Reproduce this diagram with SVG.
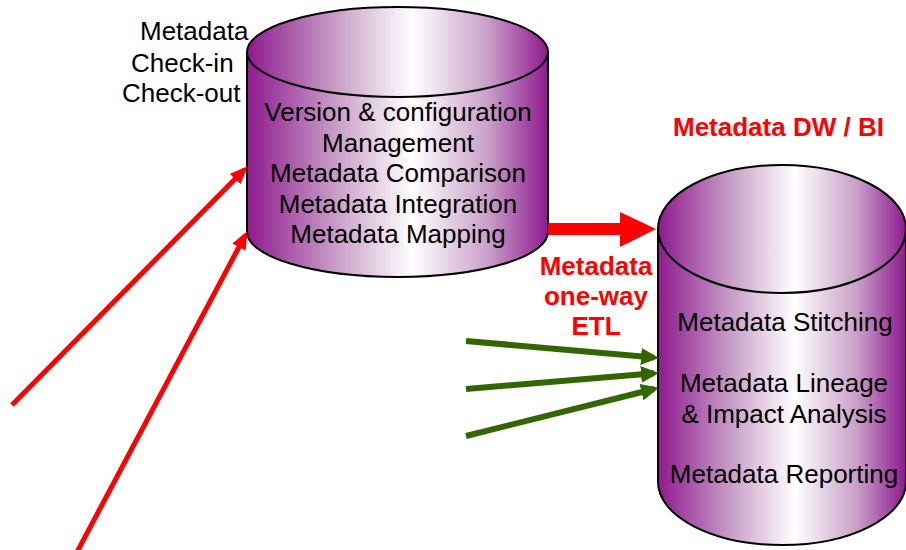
<svg xmlns="http://www.w3.org/2000/svg" width="906" height="550" viewBox="0 0 906 550">
  <defs>
    <linearGradient id="cylFill" x1="0" y1="0" x2="1" y2="0">
      <stop offset="0" stop-color="#8E1A8E"/>
      <stop offset="0.3" stop-color="#C9A0C8"/>
      <stop offset="0.55" stop-color="#FFFFFF"/>
      <stop offset="0.8" stop-color="#C9A0C8"/>
      <stop offset="1" stop-color="#8E1A8E"/>
    </linearGradient>
    <marker id="redHead" markerUnits="userSpaceOnUse" markerWidth="18" markerHeight="15" refX="13" refY="7.5" orient="auto">
      <path d="M0,0 L18,7.5 L0,15 Z" fill="#FF0000"/>
    </marker>
    <marker id="greenHead" markerUnits="userSpaceOnUse" markerWidth="18" markerHeight="17" refX="13" refY="8.5" orient="auto">
      <path d="M0,0 L18,8.5 L0,17 Z" fill="#336600"/>
    </marker>
    <style>
      .cyl { fill: url(#cylFill); stroke: #000; stroke-width: 2; }
      .body { font-family: "Liberation Sans", Arial, sans-serif; font-size: 26px; fill: #000; }
      .mid { text-anchor: middle; }
      .red { font-family: "Liberation Sans", Arial, sans-serif; font-size: 26px; font-weight: bold; fill: #FF0000; }
      .feed { fill: none; stroke: #FF0000; stroke-width: 5; marker-end: url(#redHead); }
      .src { fill: none; stroke: #336600; stroke-width: 6; marker-end: url(#greenHead); }
    </style>
  </defs>
  <rect width="906" height="550" fill="#FFFFFF"/>

  <!-- management repository -->
  <g id="repository">
    <path class="cyl" d="M247,52 V232 A150.5,45 0 0 0 548,232 V52 Z"/>
    <ellipse class="cyl" cx="397.5" cy="52" rx="150.5" ry="45"/>
    <text class="body mid" x="398" y="121">Version &amp; configuration</text>
    <text class="body mid" x="398" y="151.5">Management</text>
    <text class="body mid" x="398" y="182">Metadata Comparison</text>
    <text class="body mid" x="398" y="212.5">Metadata Integration</text>
    <text class="body mid" x="398" y="243">Metadata Mapping</text>
  </g>

  <g id="checkin-label">
    <text class="body" x="140" y="40">Metadata</text>
    <text class="body" x="131" y="72">Check-in</text>
    <text class="body" x="122" y="102">Check-out</text>
  </g>

  <!-- DW / BI repository -->
  <g id="dwbi">
    <path class="cyl" d="M658,229 V482 A124,63 0 0 0 906,482 V229 Z"/>
    <ellipse class="cyl" cx="782" cy="229" rx="124" ry="64"/>
    <text class="body mid" x="785" y="331">Metadata Stitching</text>
    <text class="body mid" x="784" y="392">Metadata Lineage</text>
    <text class="body mid" x="784" y="423">&amp; Impact Analysis</text>
    <text class="body mid" x="784" y="483">Metadata Reporting</text>
  </g>

  <g id="dwbi-title">
    <text class="red" x="673" y="136">Metadata DW / BI</text>
  </g>

  <g id="etl-label">
    <text class="red mid" x="596" y="275">Metadata</text>
    <text class="red mid" x="596" y="305">one-way</text>
    <text class="red mid" x="596" y="335">ETL</text>
  </g>

  <!-- connectors -->
  <g id="connectors">
    <line class="feed" x1="12" y1="405" x2="244.2" y2="169.8"/>
    <line class="feed" x1="77" y1="552" x2="245.1" y2="235.5"/>
    <polygon points="548,223 620,223 620,212 656,229 620,247 620,235 548,235" fill="#FF0000"/>
    <line class="src" x1="466" y1="341" x2="654" y2="357.6"/>
    <line class="src" x1="466" y1="389" x2="654" y2="373.3"/>
    <line class="src" x1="466" y1="436" x2="654.1" y2="389"/>
  </g>
</svg>
